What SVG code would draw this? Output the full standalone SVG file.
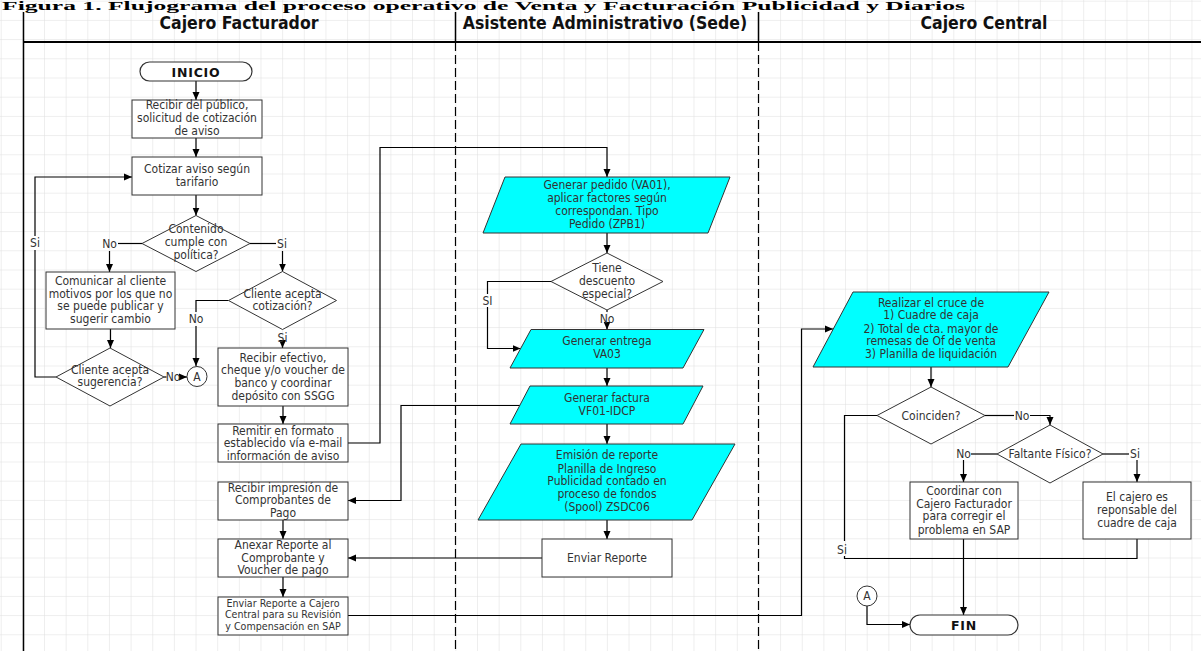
<svg xmlns="http://www.w3.org/2000/svg" width="1201" height="651" viewBox="0 0 1201 651">
<style>
.bg{fill:#fff}
.box{fill:#fff;stroke:#333;stroke-width:1}
.io{fill:#00ffff;stroke:#333;stroke-width:1}
.dec{fill:#fff;stroke:#333;stroke-width:1}
.term{fill:#fff;stroke:#333;stroke-width:1.2}
.t{font-family:'DejaVu Sans Condensed','DejaVu Sans',sans-serif;font-size:12px;fill:#333;text-anchor:middle}
.s{font-size:10.6px}
.b{font-family:'DejaVu Sans','Liberation Sans',sans-serif;font-weight:bold;font-size:12.5px;fill:#111;text-anchor:middle;letter-spacing:0.8px}
.h{font-family:'DejaVu Sans Condensed','DejaVu Sans',sans-serif;font-weight:bold;font-size:17.5px;fill:#111;text-anchor:middle}
.title{font-family:'Liberation Serif',serif;font-weight:bold;font-size:13px;fill:#000}
.c{fill:none;stroke:#000;stroke-width:1.2}
.a{marker-end:url(#ah)}
.lane{stroke:#000;stroke-width:1.5;fill:none}
.dash{stroke:#000;stroke-width:1.2;stroke-dasharray:9 4;fill:none}
</style>
<defs>
<pattern id="grid" patternUnits="userSpaceOnUse" x="0.7" y="0.7" width="21.65" height="19.2">
<path d="M0,0 H21.65 M0,0 V19.2" fill="none" stroke="#dedede" stroke-width="1"/>
</pattern>
<marker id="ah" markerUnits="userSpaceOnUse" markerWidth="9" markerHeight="8" refX="8" refY="4" orient="auto">
<path d="M0,0.5 L8,4 L0,7.5 z" fill="#000"/>
</marker>
</defs>
<rect class="bg" x="0" y="0" width="1201" height="651"/>
<rect x="0" y="0" width="1201" height="651" fill="url(#grid)"/>
<text class="title" x="2" y="10" textLength="963" lengthAdjust="spacingAndGlyphs">Figura 1. Flujograma del proceso operativo de Venta y Facturación Publicidad y Diarios</text>
<g id="lanes">
<path class="lane" d="M23.5,12 V651"/>
<path d="M23,42 H1201" stroke="#000" stroke-width="2"/>
<path class="lane" d="M455.5,12 V42" stroke-width="1.2"/>
<path class="lane" d="M758.5,12 V42" stroke-width="1.2"/>
<path class="dash" d="M455.5,42 V651"/>
<path class="dash" d="M758.5,42 V651"/>
<text class="h" x="239" y="29">Cajero Facturador</text>
<text class="h" x="605" y="29">Asistente Administrativo (Sede)</text>
<text class="h" x="984" y="29">Cajero Central</text>
</g>
<g id="connectors">
<path class="c a" d="M196,81 V100"/>
<path class="c a" d="M196,138 V157"/>
<path class="c a" d="M196,195 V215.5"/>
<path class="c" d="M142,243.5 H118"/>
<path class="c a" d="M109.5,251 V272"/>
<path class="c" d="M250,243.5 H276"/>
<path class="c a" d="M282.5,251 V271.5"/>
<path class="c a" d="M110.5,329 V348"/>
<path class="c" d="M56,377 H35 V250"/>
<path class="c a" d="M35,236 V177 H132"/>
<path class="c" d="M164,377 H166.5"/>
<path class="c a" d="M180,377 H187"/>
<path class="c" d="M228.5,300.5 H196 V312"/>
<path class="c a" d="M196,326 V366"/>
<path class="c a" d="M282.5,342 V348"/>
<path class="c a" d="M283,406 V424"/>
<path class="c a" d="M348,443 H380 V147.5 H607 V177"/>
<path class="c a" d="M520,405.5 H401 V500.5 H348"/>
<path class="c a" d="M283,520 V539"/>
<path class="c a" d="M542,558 H348"/>
<path class="c a" d="M283,577 V597"/>
<path class="c a" d="M348,615.5 H801.5 V329 H833"/>
<path class="c a" d="M607,233 V253"/>
<path class="c" d="M551,281.5 H487.5 V294"/>
<path class="c a" d="M487.5,307 V348.5 H520.5"/>
<path class="c" d="M607,310 V312"/>
<path class="c a" d="M607,323 V329.5"/>
<path class="c a" d="M607,368 V386"/>
<path class="c a" d="M607,424 V444"/>
<path class="c a" d="M607,520 V539"/>
<path class="c a" d="M931,367 V387"/>
<path class="c" d="M985,415.5 H1014"/>
<path class="c a" d="M1030,415.5 H1050 V425"/>
<path class="c" d="M997,454 H971"/>
<path class="c a" d="M963.5,460 V482"/>
<path class="c" d="M1103,454 H1129"/>
<path class="c a" d="M1137,460 V482"/>
<path class="c" d="M877,415.5 H844.5 V541"/>
<path class="c" d="M844.5,556 V558.5 H1137 V539"/>
<path class="c a" d="M963.5,539 V615"/>
<path class="c a" d="M867,606 V624.5 H910"/>
<text class="t" x="109.5" y="247.5">No</text>
<text class="t" x="282" y="247.5">Si</text>
<text class="t" x="35" y="247">Si</text>
<text class="t" x="173" y="381">No</text>
<text class="t" x="196" y="323">No</text>
<text class="t" x="282.5" y="341.5">Si</text>
<text class="t" x="487.5" y="304.5">SI</text>
<text class="t" x="607" y="323">No</text>
<text class="t" x="1022" y="419.5">No</text>
<text class="t" x="963.5" y="457.5">No</text>
<text class="t" x="1135" y="457.5">Si</text>
<text class="t" x="842" y="553.5">Si</text>
</g>
<g id="inicio">
<rect class="term" x="140" y="62" width="112" height="19" rx="9.5"/>
<text class="b" x="196" y="76.5">INICIO</text>
</g>
<g id="recibir-publico">
<rect class="box" x="132" y="100" width="130" height="38"/>
<text class="t" x="197" y="108.5">Recibir del público,</text>
<text class="t" x="197" y="122">solicitud de cotización</text>
<text class="t" x="197" y="135">de aviso</text>
</g>
<g id="cotizar">
<rect class="box" x="132" y="157" width="130" height="38"/>
<text class="t" x="197" y="173">Cotizar aviso según</text>
<text class="t" x="197" y="186">tarifario</text>
</g>
<g id="contenido">
<polygon class="dec" points="196,215.5 250,243.5 196,271.5 142,243.5"/>
<text class="t" x="196" y="233">Contenido</text>
<text class="t" x="196" y="246">cumple con</text>
<text class="t" x="196" y="259">política?</text>
</g>
<g id="comunicar">
<rect class="box" x="46" y="272" width="129" height="57"/>
<text class="t" x="110.5" y="285">Comunicar al cliente</text>
<text class="t" x="110.5" y="297.5">motivos por los que no</text>
<text class="t" x="110.5" y="310">se puede publicar y</text>
<text class="t" x="110.5" y="323">sugerir cambio</text>
</g>
<g id="sugerencia">
<polygon class="dec" points="110,348 164,377 110,406 56,377"/>
<text class="t" x="110" y="373.5">Cliente acepta</text>
<text class="t" x="110" y="386">sugerencia?</text>
</g>
<g id="conector-a1">
<circle class="box" cx="197" cy="376.5" r="10"/>
<text class="t" x="197" y="380.5">A</text>
</g>
<g id="cotizacion">
<polygon class="dec" points="282.5,271.5 336.5,300.5 282.5,329.5 228.5,300.5"/>
<text class="t" x="282.5" y="297.5">Cliente acepta</text>
<text class="t" x="282.5" y="310">cotización?</text>
</g>
<g id="efectivo">
<rect class="box" x="218" y="348" width="130" height="58"/>
<text class="t" x="283" y="361.5">Recibir efectivo,</text>
<text class="t" x="283" y="374">cheque y/o voucher de</text>
<text class="t" x="283" y="386.5">banco y coordinar</text>
<text class="t" x="283" y="399.5">depósito con SSGG</text>
</g>
<g id="remitir">
<rect class="box" x="218" y="424" width="130" height="38"/>
<text class="t" x="283" y="434.5">Remitir en formato</text>
<text class="t" x="283" y="447">establecido vía e-mail</text>
<text class="t" x="283" y="459.5">información de aviso</text>
</g>
<g id="recibir-impresion">
<rect class="box" x="218" y="482" width="130" height="38"/>
<text class="t" x="283" y="491.5">Recibir impresión de</text>
<text class="t" x="283" y="504">Comprobantes de</text>
<text class="t" x="283" y="517">Pago</text>
</g>
<g id="anexar">
<rect class="box" x="218" y="539" width="130" height="38"/>
<text class="t" x="283" y="549">Anexar Reporte al</text>
<text class="t" x="283" y="561.5">Comprobante y</text>
<text class="t" x="283" y="574">Voucher de pago</text>
</g>
<g id="enviar-cajero">
<rect class="box" x="218" y="597" width="130" height="38"/>
<text class="t s" x="283" y="607">Enviar Reporte a Cajero</text>
<text class="t s" x="283" y="618">Central para su  Revisión</text>
<text class="t s" x="283" y="629.5">y Compensación en SAP</text>
</g>
<g id="pedido">
<polygon class="io" points="505,177 730,177 708,233 483,233"/>
<text class="t" x="607" y="189">Generar pedido (VA01),</text>
<text class="t" x="607" y="202">aplicar factores según</text>
<text class="t" x="607" y="215">correspondan. Tipo</text>
<text class="t" x="607" y="227.5">Pedido  (ZPB1)</text>
</g>
<g id="descuento">
<polygon class="dec" points="607,253 663,281.5 607,310 551,281.5"/>
<text class="t" x="607" y="272">Tiene</text>
<text class="t" x="607" y="285">descuento</text>
<text class="t" x="607" y="297.5">especial?</text>
</g>
<g id="entrega">
<polygon class="io" points="531,329.5 704,329.5 683,368 510,368"/>
<text class="t" x="607" y="345">Generar entrega</text>
<text class="t" x="607" y="357.5">VA03</text>
</g>
<g id="factura">
<polygon class="io" points="530,386 703,386 683,424 510,424"/>
<text class="t" x="607" y="401.5">Generar factura</text>
<text class="t" x="607" y="415">VF01-IDCP</text>
</g>
<g id="emision">
<polygon class="io" points="521,444 735,444 692,520 478,520"/>
<text class="t" x="607" y="459">Emisión de reporte</text>
<text class="t" x="607" y="472.5">Planilla de Ingreso</text>
<text class="t" x="607" y="485">Publicidad contado en</text>
<text class="t" x="607" y="498">proceso de fondos</text>
<text class="t" x="607" y="511">(Spool) ZSDC06</text>
</g>
<g id="enviar-reporte">
<rect class="box" x="542" y="539" width="130" height="38"/>
<text class="t" x="607" y="562">Enviar Reporte</text>
</g>
<g id="realizar">
<polygon class="io" points="853,292 1049,292 1008,367 813,367"/>
<text class="t" x="931" y="307">Realizar el cruce de</text>
<text class="t" x="931" y="319">1) Cuadre de caja</text>
<text class="t" x="931" y="332.5">2) Total de cta. mayor de</text>
<text class="t" x="931" y="345">remesas de Of de venta</text>
<text class="t" x="931" y="358"> 3) Planilla de liquidación</text>
</g>
<g id="coinciden">
<polygon class="dec" points="931,387 985,415.5 931,444 877,415.5"/>
<text class="t" x="931" y="419.5">Coinciden?</text>
</g>
<g id="faltante">
<polygon class="dec" points="1050,425 1103,454 1050,483 997,454"/>
<text class="t" x="1050" y="458">Faltante Físico?</text>
</g>
<g id="coordinar">
<rect class="box" x="910" y="482" width="108" height="57"/>
<text class="t" x="964" y="495">Coordinar con</text>
<text class="t" x="964" y="507.5">Cajero Facturador</text>
<text class="t" x="964" y="520">para  corregir el</text>
<text class="t" x="964" y="533.5">problema en SAP</text>
</g>
<g id="cajero-responsable">
<rect class="box" x="1083" y="482" width="108" height="57"/>
<text class="t" x="1137" y="501">El cajero es</text>
<text class="t" x="1137" y="514">reponsable del</text>
<text class="t" x="1137" y="527">cuadre de caja</text>
</g>
<g id="conector-a2">
<circle class="box" cx="867" cy="596" r="10"/>
<text class="t" x="867" y="600">A</text>
</g>
<g id="fin">
<rect class="term" x="910" y="615" width="108" height="20" rx="10"/>
<text class="b" x="964" y="629.5">FIN</text>
</g>
</svg>
